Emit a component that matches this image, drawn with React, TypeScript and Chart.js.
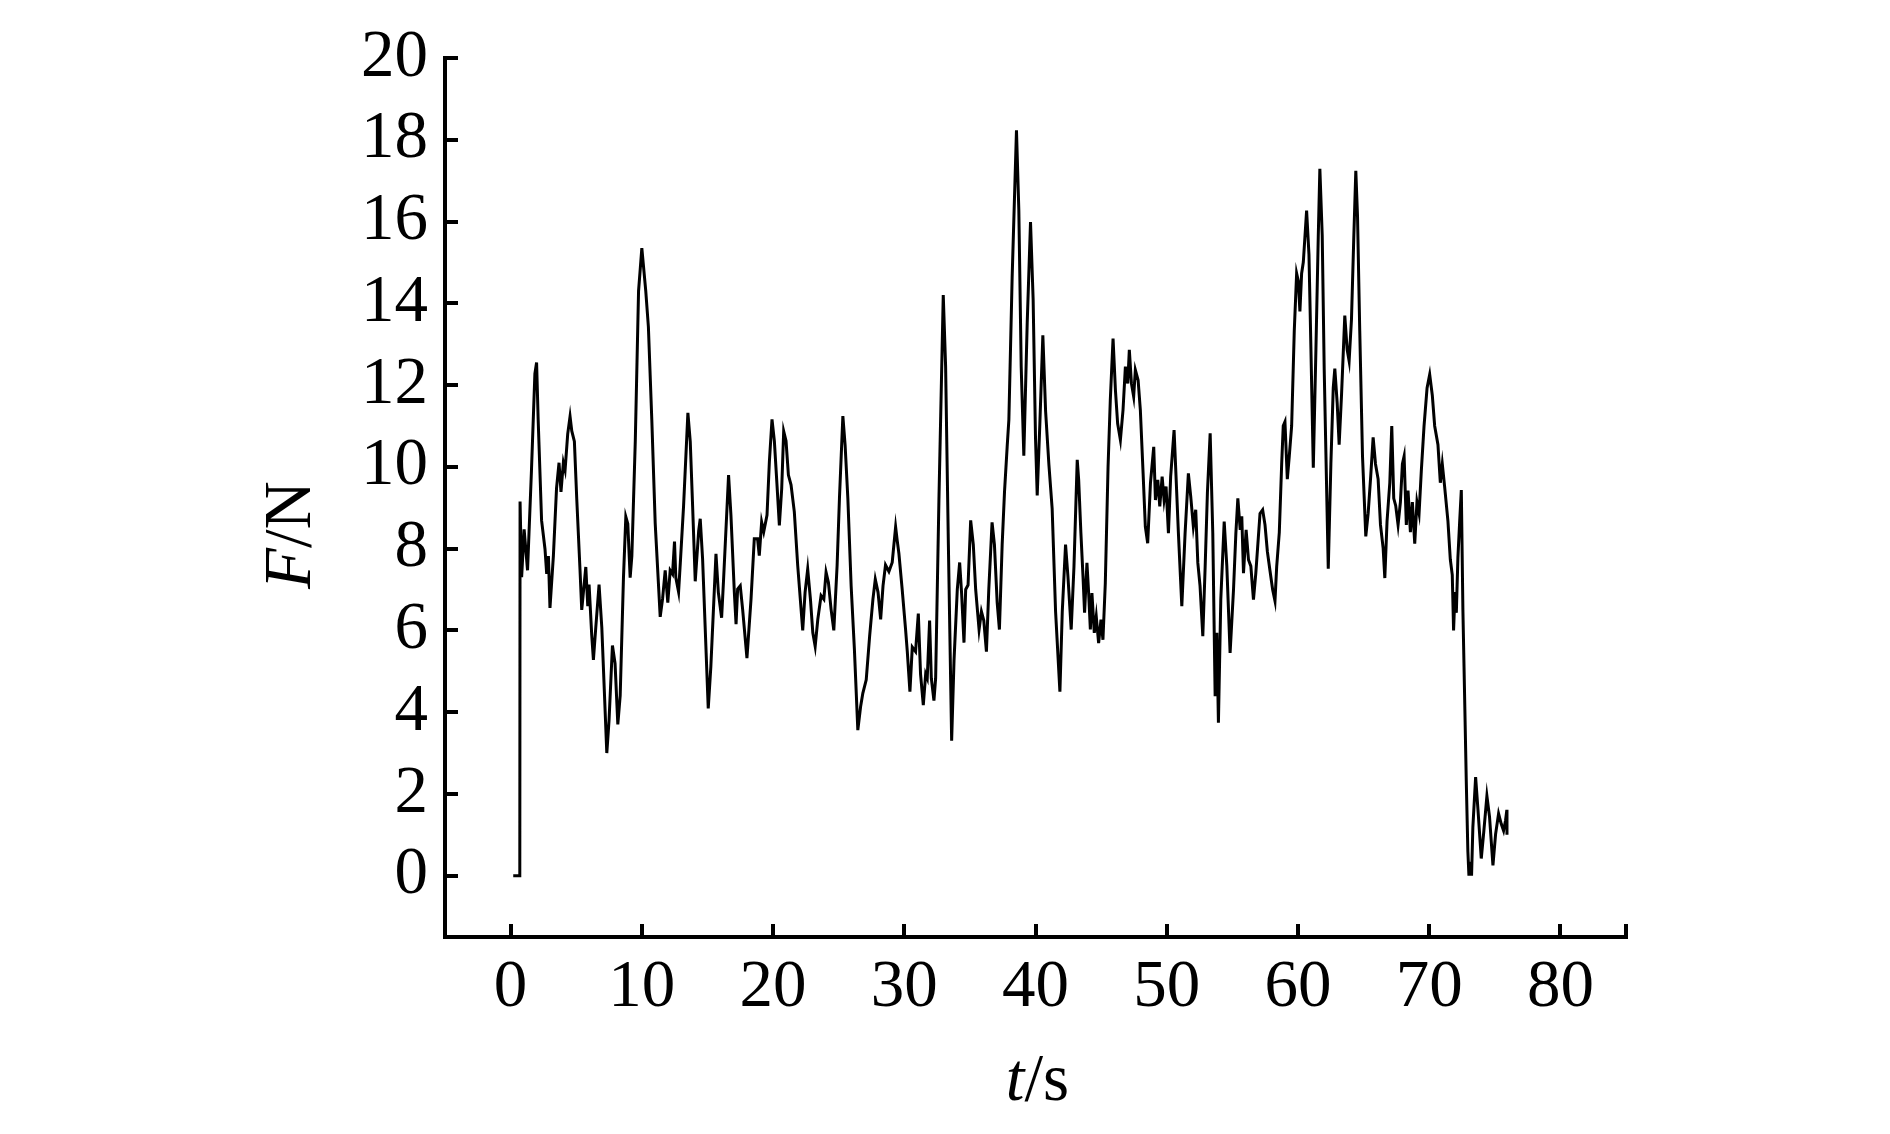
import React, { useEffect, useRef } from "react";
import { Chart, registerables } from "chart.js";

Chart.register(...registerables);

// ---- data (t in s, F in N) ----
const timeA = [0.2, 0.7, 0.72, 0.84, 1.03, 1.29, 1.59, 1.85, 1.98, 2.1, 2.36, 2.62, 2.75, 2.88, 3.0, 3.26, 3.5, 3.69, 3.84, 4.02, 4.15, 4.35, 4.53, 4.66, 4.86, 5.04, 5.29, 5.42, 5.55, 5.73, 5.88, 5.98, 6.18, 6.31, 6.49, 6.74, 6.95, 7.33, 7.5, 7.76, 7.96, 8.17, 8.35, 8.6, 8.78, 8.93, 9.11, 9.24, 9.5, 9.75, 10.0, 10.3, 10.5, 10.76, 11.02, 11.4, 11.58, 11.78, 11.98, 12.16, 12.34, 12.49, 12.59, 12.8, 12.93, 13.18, 13.51, 13.69, 13.87, 14.07, 14.33];
const forceA = [0, 0, 9.15, 7.3, 8.47, 7.47, 9.92, 12.28, 12.55, 11.15, 8.69, 7.99, 7.38, 7.82, 6.55, 7.82, 9.48, 10.1, 9.39, 10.1, 9.92, 10.8, 11.23, 10.88, 10.62, 9.22, 7.47, 6.5, 6.94, 7.55, 6.59, 7.12, 5.89, 5.28, 6.07, 7.12, 6.07, 3.0, 3.79, 5.63, 5.19, 3.7, 4.4, 7.29, 8.78, 8.61, 7.29, 7.82, 10.62, 14.3, 15.35, 14.3, 13.42, 11.15, 8.61, 6.33, 6.77, 7.47, 6.68, 7.47, 7.38, 8.17, 7.29, 6.94, 7.64, 9.04, 11.32, 10.62, 9.04, 7.2, 8.43];

const timeB = [14.45, 14.63, 15.06, 15.26, 15.65, 15.83, 16.08, 16.23, 16.61, 16.79, 17.05, 17.18, 17.3, 17.5, 17.68, 18.01, 18.32, 18.57, 18.82, 18.95, 19.13, 19.29, 19.54, 19.72, 19.92, 20.1, 20.3, 20.48, 20.66, 20.81, 20.99, 21.17, 21.37, 21.62, 21.88, 22.26, 22.44, 22.64, 22.85, 23.03, 23.21, 23.41, 23.66, 23.87, 24.04, 24.22, 24.42, 24.63, 24.88, 25.06, 25.32, 25.49, 25.7, 25.95, 26.2, 26.46, 26.67, 26.84, 27.1, 27.36, 27.61, 27.79, 28.0, 28.2, 28.38];
const forceB = [8.73, 7.75, 4.09, 5.12, 7.87, 6.93, 6.31, 7.25, 9.8, 8.82, 6.93, 6.15, 7.01, 7.09, 6.52, 5.32, 6.76, 8.24, 8.24, 7.83, 8.65, 8.41, 8.82, 10.13, 11.16, 10.63, 9.56, 8.57, 9.47, 10.87, 10.63, 9.8, 9.56, 8.9, 7.58, 6.0, 6.93, 7.5, 6.76, 5.94, 5.61, 6.27, 6.85, 6.76, 7.42, 7.17, 6.52, 6.0, 7.58, 9.23, 11.24, 10.54, 9.23, 7.09, 5.53, 3.56, 4.13, 4.46, 4.79, 5.86, 6.76, 7.25, 6.93, 6.27, 7.09];

const timeC = [28.57, 28.83, 29.08, 29.34, 29.46, 29.59, 29.84, 30.1, 30.23, 30.43, 30.61, 30.86, 31.07, 31.24, 31.45, 31.63, 31.75, 31.93, 32.06, 32.26, 32.39, 32.64, 32.97, 33.15, 33.36, 33.61, 33.79, 34.04, 34.22, 34.37, 34.55, 34.68, 34.86, 35.06, 35.26, 35.44, 35.7, 35.88, 36.06, 36.26, 36.44, 36.69, 36.87, 37.08, 37.25, 37.46, 37.64, 37.84, 37.97, 38.22, 38.55, 38.73, 38.91, 39.11, 39.37, 39.62, 39.82, 40.0, 40.13, 40.33, 40.56, 40.77, 41.02, 41.27, 41.53, 41.86, 42.04, 42.29, 42.47, 42.72, 42.93, 43.18];
const forceC = [7.6, 7.44, 7.66, 8.53, 8.2, 7.88, 7.0, 6.02, 5.48, 4.5, 5.59, 5.48, 6.41, 4.93, 4.17, 4.93, 4.83, 6.24, 4.83, 4.28, 4.83, 9.18, 14.2, 12.45, 8.1, 3.3, 5.26, 7.0, 7.66, 6.9, 5.7, 7.0, 7.11, 8.69, 8.1, 7.0, 6.02, 6.46, 6.24, 5.48, 7.0, 8.64, 8.1, 6.68, 6.02, 8.1, 9.4, 10.49, 11.15, 14.63, 18.23, 16.27, 12.45, 10.27, 13.54, 15.99, 14.09, 10.71, 9.3, 11.04, 13.22, 11.36, 10.06, 8.97, 6.46, 4.5, 6.46, 8.1, 7.33, 6.02, 7.55, 10.17];

const timeD = [43.29, 43.46, 43.62, 43.74, 43.92, 44.05, 44.18, 44.3, 44.48, 44.63, 44.81, 44.99, 45.14, 45.32, 45.53, 45.7, 45.91, 46.09, 46.26, 46.47, 46.67, 46.85, 47.03, 47.15, 47.31, 47.48, 47.61, 47.82, 47.99, 48.2, 48.37, 48.55, 48.76, 49.01, 49.14, 49.32, 49.47, 49.65, 49.8, 49.95, 50.13, 50.3, 50.56, 50.71, 50.89, 51.15, 51.4, 51.65, 51.83, 52.03, 52.21, 52.37, 52.54, 52.75, 52.93, 53.1, 53.31, 53.51, 53.69, 53.82, 53.94, 54.12, 54.38, 54.58, 54.83, 55.09, 55.27, 55.42, 55.6, 55.72, 55.85, 56.05, 56.23, 56.41, 56.61, 56.79];
const forceD = [9.68, 8.38, 7.32, 6.43, 7.65, 6.91, 6.02, 6.91, 5.94, 6.34, 5.69, 6.26, 5.77, 7.16, 10.01, 11.63, 13.14, 11.88, 11.06, 10.66, 11.39, 12.45, 12.04, 12.86, 12.04, 11.72, 12.37, 12.12, 11.39, 9.84, 8.54, 8.13, 9.6, 10.49, 9.19, 9.68, 9.03, 9.76, 9.19, 9.52, 8.38, 9.76, 10.9, 9.76, 8.38, 6.59, 8.38, 9.84, 9.27, 8.54, 8.95, 7.65, 7.08, 5.86, 7.57, 9.36, 10.82, 8.38, 4.39, 5.94, 3.74, 6.75, 8.66, 7.57, 5.45, 7.0, 8.38, 9.23, 8.46, 8.79, 7.4, 8.46, 7.73, 7.57, 6.75, 7.4];

const timeE = [57.11, 57.31, 57.49, 57.67, 57.87, 58.07, 58.25, 58.38, 58.58, 58.76, 58.88, 59.01, 59.19, 59.34, 59.52, 59.72, 59.9, 60.03, 60.15, 60.28, 60.41, 60.66, 60.84, 60.99, 61.17, 61.37, 61.55, 61.67, 61.85, 62.0, 62.31, 62.51, 62.69, 62.81, 62.99, 63.14, 63.32, 63.57, 63.75, 63.9, 64.08, 64.26, 64.41, 64.54, 64.71, 64.92, 65.17, 65.35, 65.55, 65.73, 65.91, 66.11, 66.29, 66.49, 66.62, 66.79, 67.0, 67.15, 67.3, 67.45, 67.63, 67.81, 67.96, 68.09, 68.26, 68.39, 68.57, 68.72, 68.9, 69.07, 69.23, 69.4, 69.61, 69.84, 70.04, 70.24, 70.42, 70.67, 70.85, 71.0, 71.18, 71.43];
const forceE = [8.86, 8.95, 8.58, 7.93, 7.46, 7.0, 6.72, 7.56, 8.4, 10.07, 11.0, 11.1, 9.7, 10.26, 11.0, 13.33, 14.73, 14.54, 13.8, 14.73, 15.01, 16.27, 15.19, 12.87, 9.98, 12.87, 15.66, 17.29, 15.66, 12.4, 7.51, 10.07, 11.93, 12.4, 11.56, 10.54, 11.75, 13.7, 12.87, 12.59, 13.61, 15.66, 17.24, 16.13, 13.33, 10.26, 8.3, 8.86, 9.79, 10.72, 10.07, 9.7, 8.58, 8.02, 7.28, 8.67, 9.61, 11.0, 9.23, 9.05, 8.58, 9.14, 10.07, 10.26, 8.58, 9.42, 8.4, 9.14, 8.12, 9.14, 8.86, 9.89, 11.0, 11.93, 12.26, 11.75, 11.0, 10.54, 9.61, 10.07, 9.51, 8.67];

const timeF = [71.61, 71.76, 71.86, 71.97, 72.07, 72.19, 72.32, 72.45, 72.57, 72.7, 72.83, 72.95, 73.03, 73.13, 73.23, 73.33, 73.54, 73.72, 73.97, 74.17, 74.4, 74.6, 74.86, 75.06, 75.29, 75.49, 75.67, 75.82, 75.92, 75.93];
const forceF = [7.74, 7.36, 6.0, 6.94, 6.43, 7.78, 8.63, 9.43, 6.51, 4.4, 2.28, 0.59, 0.0, 0.34, 0.0, 1.18, 2.41, 1.61, 0.42, 1.1, 1.95, 1.44, 0.25, 1.01, 1.52, 1.27, 1.1, 1.35, 1.61, 1.0];

const xTickValues = [0, 10, 20, 30, 40, 50, 60, 70, 80];
const yTickValues = [0, 2, 4, 6, 8, 10, 12, 14, 16, 18, 20];
const xRange = [-5, 85];
const yRange = [-1.5, 20];
const xTitleItalic = "t";
const xTitleRest = "/s";
const yTitleItalic = "F";
const yTitleRest = "/N";

const FONT = '"Liberation Serif", "Times New Roman", Times, serif';
const FONT_SIZE = 67;

function buildPoints() {
  const times = [...timeA, ...timeB, ...timeC, ...timeD, ...timeE, ...timeF];
  const forces = [...forceA, ...forceB, ...forceC, ...forceD, ...forceE, ...forceF];
  const n = Math.min(times.length, forces.length);
  const pts: { x: number; y: number }[] = [];
  for (let i = 0; i < n; i++) pts.push({ x: times[i], y: forces[i] });
  return pts;
}

const decorPlugin = {
  id: "decor",
  afterDraw(chart: any) {
    const ctx = chart.ctx as CanvasRenderingContext2D;
    const xs = chart.scales.x;
    const ys = chart.scales.y;
    const { left, right, top, bottom } = chart.chartArea;
    ctx.save();
    ctx.strokeStyle = "#000";
    ctx.lineCap = "butt";
    ctx.lineWidth = 4;
    // axis lines
    ctx.beginPath();
    ctx.moveTo(left, top - 2);
    ctx.lineTo(left, bottom + 2);
    ctx.moveTo(left - 2, bottom);
    ctx.lineTo(right + 2, bottom);
    ctx.stroke();
    // inward ticks
    const tl = 13;
    [...xTickValues, xRange[1]].forEach((v) => {
      const px = Math.round(xs.getPixelForValue(v));
      ctx.beginPath();
      ctx.moveTo(px, bottom);
      ctx.lineTo(px, bottom - tl);
      ctx.stroke();
    });
    yTickValues.forEach((v) => {
      const py = Math.round(ys.getPixelForValue(v));
      ctx.beginPath();
      ctx.moveTo(left, py);
      ctx.lineTo(left + tl, py);
      ctx.stroke();
    });
    // axis titles with italic symbol
    ctx.fillStyle = "#000";
    ctx.textBaseline = "alphabetic";
    ctx.textAlign = "left";
    const italicFont = `italic ${FONT_SIZE}px ${FONT}`;
    const normalFont = `${FONT_SIZE}px ${FONT}`;
    const drawMixed = (a: string, b: string) => {
      ctx.font = italicFont;
      const wa = ctx.measureText(a).width;
      ctx.font = normalFont;
      const wb = ctx.measureText(b).width;
      const start = -(wa + wb) / 2;
      ctx.font = italicFont;
      ctx.fillText(a, start, 0);
      ctx.font = normalFont;
      ctx.fillText(b, start + wa, 0);
    };
    // x title
    ctx.save();
    ctx.translate((left + right) / 2 + 2, 1100);
    drawMixed(xTitleItalic, xTitleRest);
    ctx.restore();
    // y title
    ctx.save();
    ctx.translate(310, 535);
    ctx.rotate(-Math.PI / 2);
    drawMixed(yTitleItalic, yTitleRest);
    ctx.restore();
    ctx.restore();
  },
};

export default function App() {
  const canvasRef = useRef<HTMLCanvasElement | null>(null);

  useEffect(() => {
    const canvas = canvasRef.current;
    if (!canvas) return;
    const chart = new Chart(canvas, {
      type: "line",
      data: {
        datasets: [
          {
            data: buildPoints(),
            borderColor: "#000",
            borderWidth: 3,
            pointRadius: 0,
            tension: 0,
            fill: false,
          },
        ],
      },
      options: {
        animation: false,
        responsive: false,
        devicePixelRatio: 1,
        layout: { padding: { left: 0, right: 264, top: 58, bottom: 0 } },
        plugins: {
          legend: { display: false },
          tooltip: { enabled: false },
          title: { display: false },
        },
        scales: {
          x: {
            type: "linear",
            min: xRange[0],
            max: xRange[1],
            afterBuildTicks: (scale: any) => {
              scale.ticks = xTickValues.map((v) => ({ value: v }));
            },
            afterFit: (scale: any) => {
              scale.height = 197;
            },
            grid: { display: false, drawTicks: false },
            border: { display: false },
            ticks: {
              autoSkip: false,
              maxRotation: 0,
              padding: 11,
              color: "#000",
              font: { family: FONT, size: FONT_SIZE },
            },
          },
          y: {
            type: "linear",
            min: yRange[0],
            max: yRange[1],
            afterBuildTicks: (scale: any) => {
              scale.ticks = yTickValues.map((v) => ({ value: v }));
            },
            afterFit: (scale: any) => {
              scale.width = 445;
            },
            grid: { display: false, drawTicks: false },
            border: { display: false },
            ticks: {
              autoSkip: false,
              padding: 17,
              color: "#000",
              font: { family: FONT, size: FONT_SIZE },
            },
          },
        },
      },
      plugins: [decorPlugin],
    });
    return () => chart.destroy();
  }, []);

  return (
    <div style={{ position: "absolute", left: 0, top: 0, width: 1890, height: 1134, background: "#fff" }}>
      <canvas ref={canvasRef} width={1890} height={1134} style={{ display: "block", width: 1890, height: 1134 }} />
    </div>
  );
}
